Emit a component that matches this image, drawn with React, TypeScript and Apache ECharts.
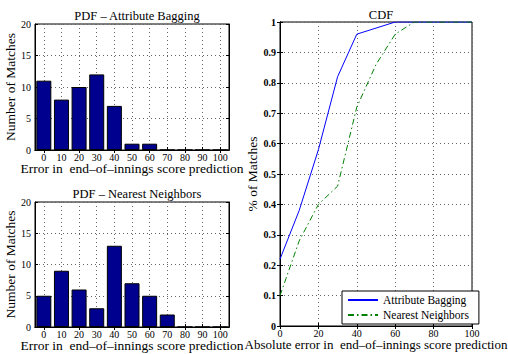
import React, { useEffect, useRef } from "react";
import * as echarts from "echarts";

const pdfCategories = ["0", "10", "20", "30", "40", "50", "60", "70", "80", "90", "100"];
const baggingCounts = [11, 8, 10, 12, 7, 1, 1, 0, 0, 0, 0];
const neighborsCounts = [5, 9, 6, 3, 13, 7, 5, 2, 0, 0, 0];
const cdfX = [0, 10, 20, 30, 40, 50, 60, 70, 80, 90, 100];
const baggingCdf = [0.22, 0.38, 0.58, 0.82, 0.96, 0.98, 1, 1, 1, 1, 1];
const neighborsCdf = [0.1, 0.28, 0.4, 0.46, 0.72, 0.86, 0.96, 1, 1, 1, 1];

const FONT = "Liberation Serif";

export default function App() {
  const ref = useRef<HTMLDivElement>(null);
  useEffect(() => {
    const chart = echarts.init(ref.current!, null, { renderer: "svg" });
    const grid = (left: number, top: number, width: number, height: number) => ({
      left, top, width, height, show: true, borderColor: "#000", borderWidth: 1, backgroundColor: "#fff",
      outerBoundsMode: "none", containLabel: false,
    });
    const split = { show: true, lineStyle: { type: [1, 3], color: "#666", width: 1 } };
    const tickIn = { show: true, inside: true, length: 3, lineStyle: { color: "#000" } };
    const lbl = { fontFamily: FONT, fontSize: 10, color: "#000" };
    const xLbl = { ...lbl, margin: 2, lineHeight: 10 };
    const nameStyle = { fontFamily: FONT, fontSize: 13.5, color: "#000" };
    const xNameStyle = { ...nameStyle, lineHeight: 13 };
    const titleStyle = { fontFamily: FONT, fontSize: 12.5, fontWeight: "normal", color: "#000" };

    const catBottom = (gridIndex: number, name: string) => ({
      type: "category", gridIndex, data: pdfCategories, position: "bottom",
      axisLine: { lineStyle: { color: "#000" } },
      axisTick: { ...tickIn, alignWithLabel: true },
      splitLine: { ...split, alignWithLabel: true },
      axisLabel: { ...xLbl, interval: 0 },
      name, nameLocation: "middle", nameGap: 12, nameMoveOverlap: false, nameTextStyle: xNameStyle,
    });
    const catTop = (gridIndex: number) => ({
      type: "category", gridIndex, data: pdfCategories, position: "top",
      axisLine: { lineStyle: { color: "#000" } },
      axisTick: { ...tickIn, alignWithLabel: true },
      axisLabel: { show: false }, splitLine: { show: false },
    });
    const valY = (gridIndex: number, name: string) => ({
      type: "value", gridIndex, min: 0, max: 20, interval: 5, position: "left",
      axisLine: { show: true, lineStyle: { color: "#000" } },
      axisTick: tickIn, splitLine: split,
      axisLabel: { ...lbl, margin: 4 },
      name, nameLocation: "middle", nameGap: 16, nameTextStyle: nameStyle,
    });
    const valYRight = (gridIndex: number, max: number, interval: number) => ({
      type: "value", gridIndex, min: 0, max, interval, position: "right",
      axisLine: { show: true, lineStyle: { color: "#000" } },
      axisTick: tickIn, splitLine: { show: false }, axisLabel: { show: false },
    });

    chart.setOption({
      animation: false,
      backgroundColor: "#fff",
      title: [
        { text: "PDF – Attribute Bagging", left: 132, top: 4, textAlign: "center", textStyle: titleStyle },
        { text: "PDF – Nearest Neighbors", left: 132, top: 182, textAlign: "center", textStyle: titleStyle },
        { text: "CDF", left: 376, top: 3, textAlign: "center", textStyle: titleStyle },
      ],
      grid: [grid(35, 24, 194, 126), grid(35, 202, 194, 125), grid(280, 22, 192, 304)],
      xAxis: [
        catBottom(0, "Error in  end–of–innings score prediction"),
        catTop(0),
        catBottom(1, "Error in  end–of–innings score prediction"),
        catTop(1),
        {
          type: "value", gridIndex: 2, min: 0, max: 100, interval: 20, position: "bottom",
          axisLine: { lineStyle: { color: "#000" } }, axisTick: tickIn, splitLine: split,
          axisLabel: xLbl,
          name: "Absolute error in  end–of–innings score prediction", nameLocation: "middle", nameGap: 12,
          nameMoveOverlap: false,
          nameTextStyle: { ...xNameStyle, fontSize: 13 },
        },
        {
          type: "value", gridIndex: 2, min: 0, max: 100, interval: 20, position: "top",
          axisLine: { lineStyle: { color: "#000" } }, axisTick: tickIn, splitLine: { show: false }, axisLabel: { show: false },
        },
      ],
      yAxis: [
        valY(0, "Number of Matches"),
        valYRight(0, 20, 5),
        valY(1, "Number of Matches"),
        valYRight(1, 20, 5),
        {
          type: "value", gridIndex: 2, min: 0, max: 1, interval: 0.1, position: "left",
          axisLine: { show: true, lineStyle: { color: "#000" } }, axisTick: tickIn, splitLine: split,
          axisLabel: { ...lbl, margin: 4, fontWeight: "bold" },
          name: "% of Matches", nameLocation: "middle", nameGap: 17, nameTextStyle: nameStyle,
        },
        valYRight(2, 1, 0.1),
      ],
      legend: {
        orient: "vertical", left: 342, top: 291,
        backgroundColor: "#fff", borderColor: "#000", borderWidth: 1,
        padding: [3, 10, 3, 5], itemGap: 3, itemWidth: 30, itemHeight: 12,
        itemStyle: { opacity: 0 },
        textStyle: { fontFamily: FONT, fontSize: 11.5, color: "#000" },
        data: ["Attribute Bagging", "Nearest Neighbors"],
      },
      series: [
        {
          type: "bar", name: "PDF Attribute Bagging", xAxisIndex: 0, yAxisIndex: 0, data: baggingCounts,
          barWidth: 15, itemStyle: { color: "#00008f", borderColor: "#000", borderWidth: 1 },
        },
        {
          type: "bar", name: "PDF Nearest Neighbors", xAxisIndex: 2, yAxisIndex: 2, data: neighborsCounts,
          barWidth: 15, itemStyle: { color: "#00008f", borderColor: "#000", borderWidth: 1 },
        },
        {
          type: "line", name: "Attribute Bagging", xAxisIndex: 4, yAxisIndex: 4,
          data: cdfX.map((x, i) => [x, baggingCdf[i]]),
          showSymbol: false, symbol: "none", color: "#0000ff",
          lineStyle: { color: "#0000ff", width: 1 },
        },
        {
          type: "line", name: "Nearest Neighbors", xAxisIndex: 4, yAxisIndex: 4,
          data: cdfX.map((x, i) => [x, neighborsCdf[i]]),
          showSymbol: false, symbol: "none", color: "#008000",
          lineStyle: { color: "#008000", width: 1, type: [6, 3, 1.5, 3] },
        },
      ],
    });
    return () => chart.dispose();
  }, []);
  return <div ref={ref} style={{ position: "fixed", left: 0, top: 0, width: 508, height: 354 }} />;
}
